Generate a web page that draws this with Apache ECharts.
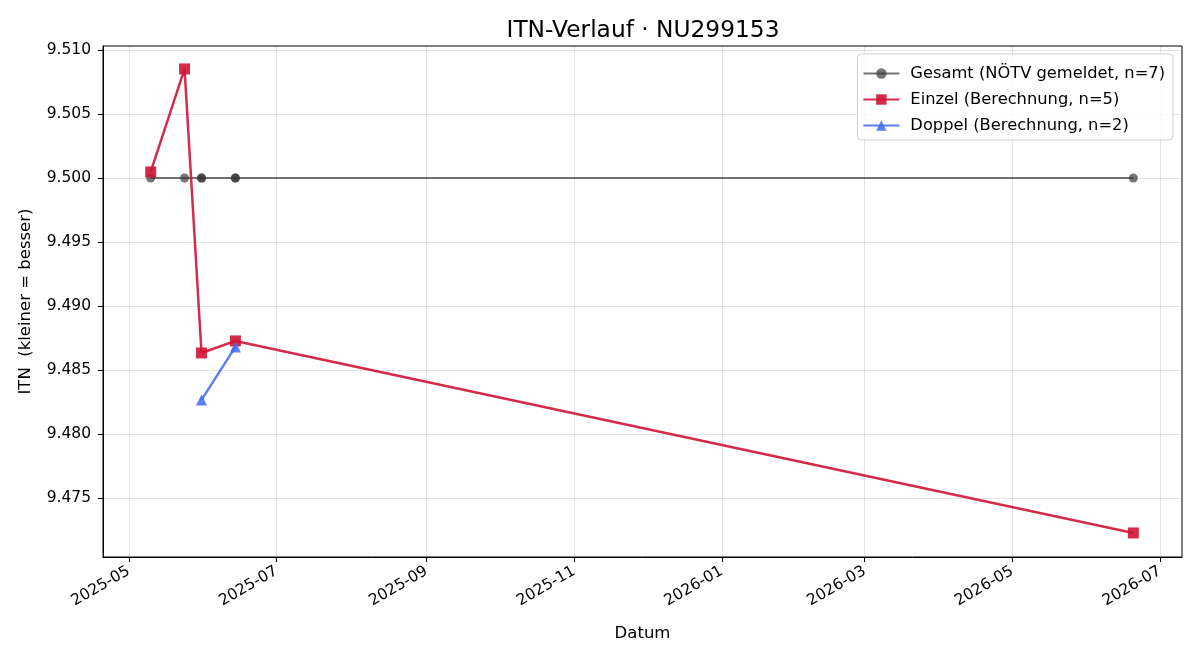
<!DOCTYPE html>
<html>
<head>
<meta charset="utf-8">
<script src="https://cdn.jsdelivr.net/npm/echarts@6/dist/echarts.min.js"></script>
<style>
  html, body { margin: 0; padding: 0; background: #fff; }
  #main { width: 1200px; height: 660px; }
</style>
</head>
<body>
<div id="main"></div>
<script>
// Werte
const gesamtDates = ['2025-05-10', '2025-05-24', '2025-05-31', '2025-05-31', '2025-06-14', '2025-06-14', '2026-06-20'];
const gesamtITN = [9.500, 9.500, 9.500, 9.500, 9.500, 9.500, 9.500];

const einzelDates = ['2025-05-10', '2025-05-24', '2025-05-31', '2025-06-14', '2026-06-20'];
const einzelITN = [9.50047, 9.50852, 9.48633, 9.48727, 9.47227];

const doppelDates = ['2025-05-31', '2025-06-14'];
const doppelITN = [9.48266, 9.48680];

const xTicks = ['2025-05-01', '2025-07-01', '2025-09-01', '2025-11-01', '2026-01-01', '2026-03-01', '2026-05-01', '2026-07-01'];
const yTicks = [9.475, 9.480, 9.485, 9.490, 9.495, 9.500, 9.505, 9.510];

const FONT = 'DejaVu Sans';

// 'YYYY-MM-DD' -> ms (UTC)
function ts(s) {
  var p = s.split('-');
  return Date.UTC(+p[0], +p[1] - 1, +p[2]);
}
function pairs(dates, vals) {
  return dates.map(function (d, i) { return [ts(d), vals[i]]; });
}
function fmtMonth(v) {
  var d = new Date(v);
  var m = d.getUTCMonth() + 1;
  return d.getUTCFullYear() + '-' + (m < 10 ? '0' + m : m);
}

var chartDom = document.getElementById('main');
var myChart = echarts.init(chartDom, null, { renderer: 'canvas' });

var xTickVals = xTicks.map(ts);
var DAY = 86400000;

var option = {
  animation: false,
  backgroundColor: '#fff',
  textStyle: { fontFamily: FONT },
  title: {
    text: 'ITN-Verlauf · NU299153',
    left: 638,
    textAlign: 'center',
    top: 14,
    textStyle: { fontFamily: FONT, fontSize: 23.3, fontWeight: 'normal', color: '#000' }
  },
  legend: {
    right: 27,
    top: 54,
    orient: 'vertical',
    backgroundColor: 'rgba(255,255,255,0.8)',
    borderColor: '#d0d0d0',
    borderWidth: 1,
    borderRadius: 4,
    padding: [10, 8, 5, 5],
    itemGap: 7,
    itemWidth: 36,
    itemHeight: 13,
    textStyle: { fontFamily: FONT, fontSize: 16.3, color: '#000', padding: [0, 0, 0, 6], lineHeight: 19 },
    data: ['Gesamt (NÖTV gemeldet, n=7)', 'Einzel (Berechnung, n=5)', 'Doppel (Berechnung, n=2)']
  },
  grid: {
    left: 103,
    right: 18,
    top: 46,
    bottom: 103,
    show: true,
    borderColor: '#000',
    borderWidth: 1
  },
  xAxis: {
    type: 'value',
    min: ts('2025-04-20') + 0.3 * DAY,
    max: ts('2026-07-10') + 0.1 * DAY,
    name: 'Datum',
    nameLocation: 'middle',
    nameGap: 68,
    nameTextStyle: { fontFamily: FONT, fontSize: 16.5, color: '#000' },
    axisLine: { show: true, onZero: false, lineStyle: { color: '#000', width: 1 } },
    axisTick: {
      show: true,
      length: 5,
      inside: false,
      customValues: xTickVals,
      lineStyle: { color: '#000' }
    },
    axisLabel: {
      customValues: xTickVals,
      rotate: 30,
      fontFamily: FONT,
      fontSize: 15.5,
      color: '#000',
      margin: 13,
      formatter: fmtMonth
    },
    splitLine: { show: true, lineStyle: { color: 'rgba(0,0,0,0.1)', width: 1 } }
  },
  yAxis: {
    type: 'value',
    min: 9.47039,
    max: 9.51031,
    name: 'ITN  (kleiner = besser)',
    nameLocation: 'middle',
    nameGap: 69,
    nameTextStyle: { fontFamily: FONT, fontSize: 16.5, color: '#000' },
    axisLine: { show: true, onZero: false, lineStyle: { color: '#000', width: 1 } },
    axisTick: {
      show: true,
      length: 5,
      customValues: yTicks,
      lineStyle: { color: '#000' }
    },
    axisLabel: {
      customValues: yTicks,
      fontFamily: FONT,
      fontSize: 15.5,
      color: '#000',
      margin: 12,
      formatter: function (v) { return v.toFixed(3); }
    },
    splitLine: { show: true, lineStyle: { color: 'rgba(0,0,0,0.1)', width: 1 } }
  },
  series: [
    {
      name: 'Gesamt (NÖTV gemeldet, n=7)',
      type: 'line',
      data: pairs(gesamtDates, gesamtITN),
      symbol: 'circle',
      symbolSize: 9,
      showAllSymbol: true,
      lineStyle: { color: 'rgba(51,51,51,0.68)', width: 2 },
      itemStyle: { color: 'rgba(51,51,51,0.68)' },
      z: 2
    },
    {
      name: 'Einzel (Berechnung, n=5)',
      type: 'line',
      data: pairs(einzelDates, einzelITN),
      symbol: 'rect',
      symbolSize: 11,
      showAllSymbol: true,
      lineStyle: { color: 'rgba(208,20,54,0.9)', width: 2.5 },
      itemStyle: { color: 'rgba(208,20,54,0.9)' },
      z: 3
    },
    {
      name: 'Doppel (Berechnung, n=2)',
      type: 'line',
      data: pairs(doppelDates, doppelITN),
      symbol: 'triangle',
      symbolSize: 11,
      showAllSymbol: true,
      lineStyle: { color: 'rgba(65,105,240,0.85)', width: 2.5 },
      itemStyle: { color: 'rgba(65,105,240,0.85)' },
      z: 4
    }
  ]
};

myChart.setOption(option);
</script>
</body>
</html>
